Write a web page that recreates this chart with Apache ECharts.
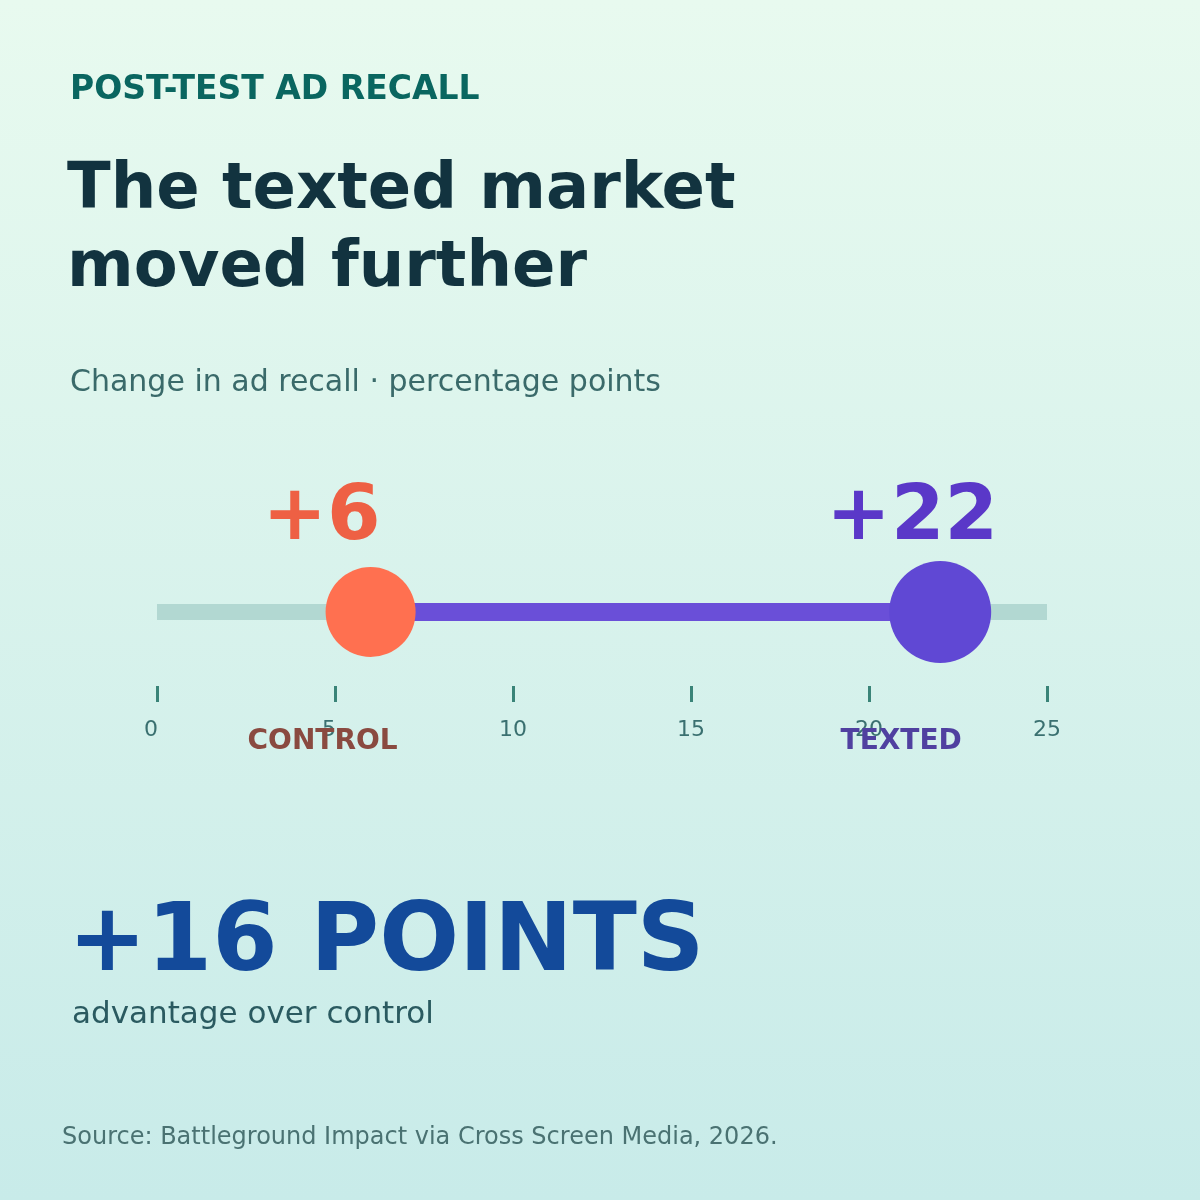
<!DOCTYPE html>
<html>
<head>
<meta charset="utf-8">
<script src="https://cdn.jsdelivr.net/npm/echarts@6/dist/echarts.min.js"></script>
<style>
  html, body { margin: 0; padding: 0; }
  #chart { width: 1200px; height: 1200px; }
</style>
</head>
<body>
<div id="chart"></div>
<script>
// data
var groups = ['CONTROL', 'TEXTED'];
var changes = [6, 22];
var valueLabels = ['+6', '+22'];
var axisRange = [0, 25];
var tickStep = 5;

var font = 'DejaVu Sans';
var dotColors = ['#ff7050', '#6048d4'];
var labelColors = ['#ee6044', '#5a38c8'];
var nameColors = ['#8a4a40', '#5040a0'];
var dotSizes = [90, 102];
var labelShift = [-49, -28];
var nameShift = [-48, -39];

var myChart = echarts.init(document.getElementById('chart'));

var dots = changes.map(function (v, i) {
  return {
    value: [v, 0.5],
    symbolSize: dotSizes[i],
    itemStyle: { color: dotColors[i], opacity: 1 },
    label: {
      show: true,
      position: 'inside',
      offset: [labelShift[i], -93],
      formatter: valueLabels[i],
      fontFamily: font,
      fontWeight: 'bold',
      fontSize: 77,
      color: labelColors[i]
    }
  };
});

var names = changes.map(function (v, i) {
  return {
    value: [v, 0.5],
    symbolSize: 0,
    itemStyle: { opacity: 1 },
    label: {
      show: true,
      position: 'inside',
      offset: [nameShift[i], 130],
      formatter: groups[i],
      fontFamily: font,
      fontWeight: 'bold',
      fontSize: 28,
      color: nameColors[i]
    }
  };
});

option = {
  backgroundColor: new echarts.graphic.LinearGradient(0, 0, 0, 1, [
    { offset: 0, color: '#e8faef' },
    { offset: 1, color: '#c8ebe9' }
  ]),
  title: [
    {
      text: 'POST-TEST AD RECALL',
      left: 65, top: 69,
      textStyle: { fontFamily: font, fontWeight: 'bold', fontSize: 33, color: '#0a6660' }
    },
    {
      text: 'The texted market\nmoved further',
      left: 62, top: 147,
      textStyle: { fontFamily: font, fontWeight: 'bold', fontSize: 64, lineHeight: 78, color: '#12333f' }
    },
    {
      text: 'Change in ad recall · percentage points',
      left: 65, top: 363,
      textStyle: { fontFamily: font, fontWeight: 'normal', fontSize: 30, color: '#3a6a6a' }
    },
    {
      text: '+16 POINTS',
      left: 63, top: 894,
      textStyle: { fontFamily: font, fontWeight: 'bold', fontSize: 94, color: '#134a9a' }
    },
    {
      text: 'advantage over control',
      left: 67, top: 994,
      textStyle: { fontFamily: font, fontWeight: 'normal', fontSize: 31, color: '#2a5a60' }
    },
    {
      text: 'Source: Battleground Impact via Cross Screen Media, 2026.',
      left: 57, top: 1121,
      textStyle: { fontFamily: font, fontWeight: 'normal', fontSize: 24, color: '#4a7272' }
    }
  ],
  grid: { left: 157, right: 153, top: 538, bottom: 514 },
  xAxis: {
    type: 'value',
    min: axisRange[0],
    max: axisRange[1],
    interval: tickStep,
    splitLine: { show: false },
    axisLine: { show: false },
    axisTick: { show: true, length: 16, lineStyle: { color: '#3a8478', width: 3 } },
    axisLabel: {
      margin: 33,
      fontFamily: font,
      fontSize: 22,
      color: '#3a7070',
      formatter: function (v) {
        return v < 10 ? '{s|' + v + '}' : String(v);
      },
      rich: { s: { fontFamily: font, fontSize: 22, color: '#3a7070', padding: [0, 12, 0, 0] } }
    }
  },
  yAxis: { type: 'value', min: 0, max: 1, show: false },
  series: [
    {
      type: 'line',
      data: [[axisRange[0], 0.5], [axisRange[1], 0.5]],
      symbol: 'none',
      lineStyle: { color: '#b2d8d2', width: 16, cap: 'butt' },
      silent: true
    },
    {
      type: 'line',
      data: [[changes[0], 0.5], [changes[1], 0.5]],
      symbol: 'none',
      lineStyle: { color: '#6a4fd8', width: 18, cap: 'butt' },
      silent: true
    },
    {
      type: 'scatter',
      data: dots,
      z: 5
    },
    {
      type: 'scatter',
      data: names,
      z: 6
    }
  ]
};
myChart.setOption(option);
</script>
</body>
</html>
